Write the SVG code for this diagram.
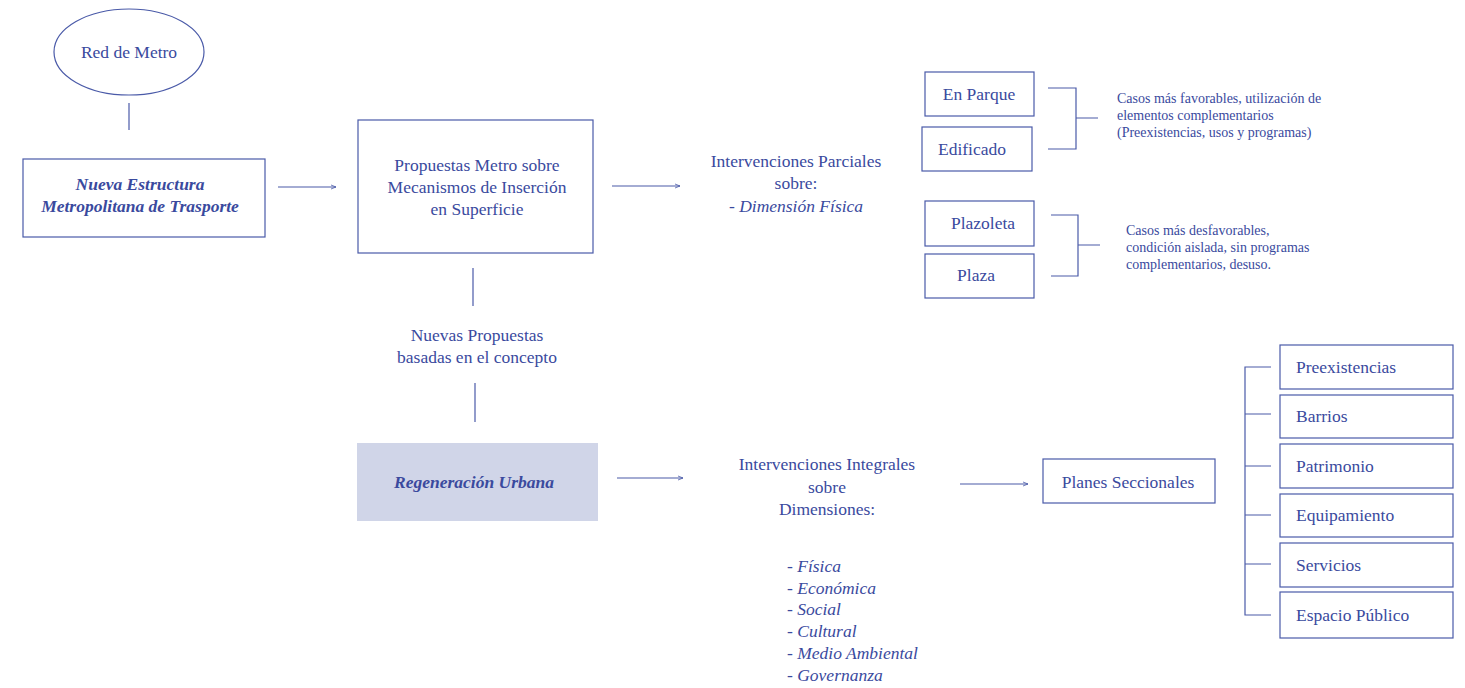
<svg xmlns="http://www.w3.org/2000/svg" width="1465" height="688" viewBox="0 0 1465 688">
<defs>
<style>
.t{font-family:"Liberation Serif","DejaVu Serif",serif;font-size:17.5px;fill:#3a4a9e}
.s{font-family:"Liberation Serif","DejaVu Serif",serif;font-size:14px;fill:#3a4a9e}
.i{font-style:italic}
.b{font-weight:bold}
.m{text-anchor:middle}
.box{fill:#fff;stroke:#4a5aa8;stroke-width:1.2}
.ln{fill:none;stroke:#4a5aa8;stroke-width:1.2}
</style>
<marker id="ah" markerWidth="6" markerHeight="6" refX="5" refY="3" orient="auto" markerUnits="userSpaceOnUse">
<path d="M0,1 L5,3 L0,5" fill="none" stroke="#4a5aa8" stroke-width="0.8"/>
</marker>
</defs>
<rect width="1465" height="688" fill="#fff"/>
<g id="connectors">
<line class="ln" x1="129" y1="103" x2="129" y2="130"/>
<line class="ln" x1="278" y1="187" x2="336" y2="187" marker-end="url(#ah)"/>
<line class="ln" x1="612" y1="186" x2="680" y2="186" marker-end="url(#ah)"/>
<line class="ln" x1="473" y1="268" x2="473" y2="306"/>
<line class="ln" x1="475" y1="383" x2="475" y2="422"/>
<line class="ln" x1="617" y1="478" x2="683" y2="478" marker-end="url(#ah)"/>
<line class="ln" x1="960" y1="484" x2="1028" y2="484" marker-end="url(#ah)"/>
<path class="ln" d="M1048,88 H1076 V149 H1048 M1076,118 H1098"/>
<path class="ln" d="M1051,215 H1078 V276 H1051 M1078,245 H1100"/>
<path class="ln" d="M1271,367 H1245 V615 H1271 M1245,414 H1271 M1245,466 H1271 M1245,515 H1271 M1245,564 H1271"/>
</g>
<g id="red-metro">
<ellipse class="box" cx="129" cy="52" rx="75" ry="43"/>
<text class="t m" x="129" y="58">Red de Metro</text>
</g>
<g id="nueva-estructura">
<rect class="box" x="23" y="159" width="242" height="78"/>
<text class="t m i b" x="140" y="190">Nueva Estructura</text>
<text class="t m i b" x="140" y="212">Metropolitana de Trasporte</text>
</g>
<g id="propuestas-metro">
<rect class="box" x="358" y="120" width="235" height="133"/>
<text class="t m" x="477" y="171">Propuestas Metro sobre</text>
<text class="t m" x="477" y="193">Mecanismos de Inserción</text>
<text class="t m" x="477" y="215">en Superficie</text>
</g>
<g id="intervenciones-parciales">
<text class="t m" x="796" y="167">Intervenciones Parciales</text>
<text class="t m" x="796" y="189">sobre:</text>
<text class="t m" x="796" y="212">- <tspan class="i">Dimensión Física</tspan></text>
</g>
<g id="en-parque">
<rect class="box" x="925" y="72" width="109" height="44"/>
<text class="t m" x="979" y="100">En Parque</text>
</g>
<g id="edificado">
<rect class="box" x="922" y="127" width="110" height="44"/>
<text class="t m" x="972" y="155">Edificado</text>
</g>
<g id="plazoleta">
<rect class="box" x="925" y="201" width="109" height="45"/>
<text class="t m" x="983" y="229">Plazoleta</text>
</g>
<g id="plaza">
<rect class="box" x="925" y="254" width="109" height="44"/>
<text class="t m" x="976" y="281">Plaza</text>
</g>
<g id="casos-favorables">
<text class="s" x="1117" y="103">Casos más favorables, utilización de</text>
<text class="s" x="1117" y="120">elementos complementarios</text>
<text class="s" x="1117" y="137">(Preexistencias, usos y programas)</text>
</g>
<g id="casos-desfavorables">
<text class="s" x="1126" y="235">Casos más desfavorables,</text>
<text class="s" x="1126" y="252">condición aislada, sin programas</text>
<text class="s" x="1126" y="269">complementarios, desuso.</text>
</g>
<g id="nuevas-propuestas">
<text class="t m" x="477" y="341">Nuevas Propuestas</text>
<text class="t m" x="477" y="363">basadas en el concepto</text>
</g>
<g id="regeneracion-urbana">
<rect x="357" y="443" width="241" height="78" fill="#d0d5e8"/>
<text class="t m i b" x="474" y="488">Regeneración Urbana</text>
</g>
<g id="intervenciones-integrales">
<text class="t m" x="827" y="470">Intervenciones Integrales</text>
<text class="t m" x="827" y="493">sobre</text>
<text class="t m" x="827" y="515">Dimensiones:</text>
</g>
<g id="dimensiones">
<text class="t" x="787" y="572">- <tspan class="i">Física</tspan></text>
<text class="t" x="787" y="594">- <tspan class="i">Económica</tspan></text>
<text class="t" x="787" y="615">- <tspan class="i">Social</tspan></text>
<text class="t" x="787" y="637">- <tspan class="i">Cultural</tspan></text>
<text class="t" x="787" y="659">- <tspan class="i">Medio Ambiental</tspan></text>
<text class="t" x="787" y="681">- <tspan class="i">Governanza</tspan></text>
</g>
<g id="planes-seccionales">
<rect class="box" x="1043" y="459" width="172" height="44"/>
<text class="t m" x="1128" y="488">Planes Seccionales</text>
</g>
<g id="preexistencias">
<rect class="box" x="1280" y="345" width="173" height="44"/>
<text class="t" x="1296" y="373">Preexistencias</text>
</g>
<g id="barrios">
<rect class="box" x="1280" y="395" width="173" height="43"/>
<text class="t" x="1296" y="422">Barrios</text>
</g>
<g id="patrimonio">
<rect class="box" x="1280" y="444" width="173" height="44"/>
<text class="t" x="1296" y="472">Patrimonio</text>
</g>
<g id="equipamiento">
<rect class="box" x="1280" y="494" width="173" height="43"/>
<text class="t" x="1296" y="521">Equipamiento</text>
</g>
<g id="servicios">
<rect class="box" x="1280" y="543" width="173" height="44"/>
<text class="t" x="1296" y="571">Servicios</text>
</g>
<g id="espacio-publico">
<rect class="box" x="1280" y="592" width="173" height="46"/>
<text class="t" x="1296" y="621">Espacio Público</text>
</g>
</svg>
